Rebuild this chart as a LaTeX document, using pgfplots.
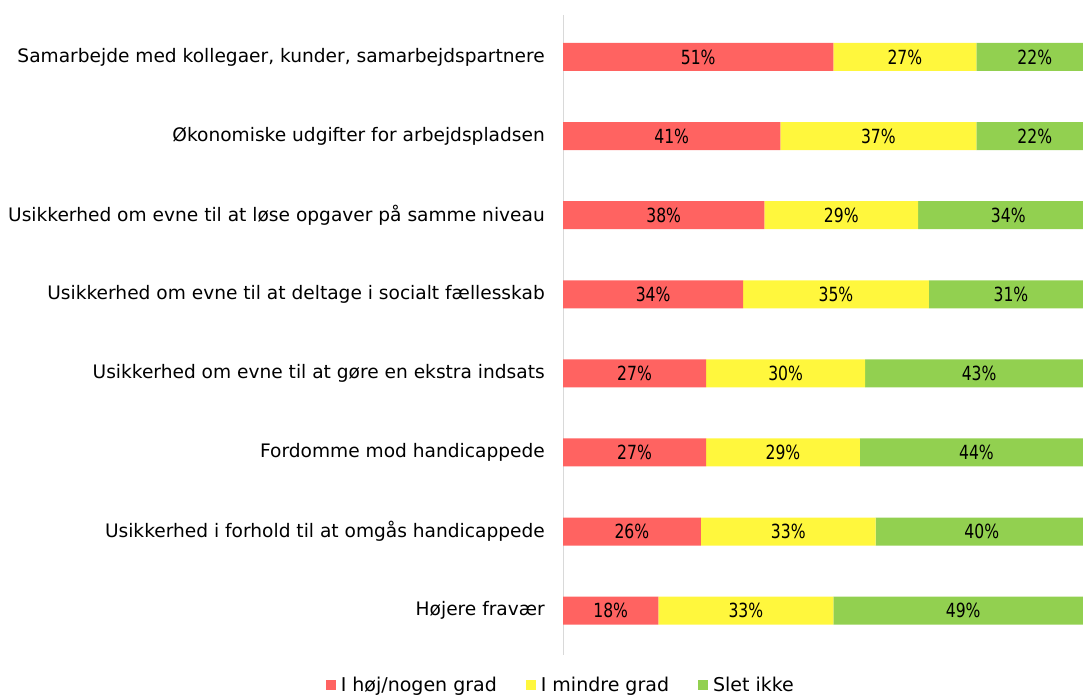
\documentclass[border=0pt]{standalone}
\usepackage{pgfplots}
\pgfplotsset{compat=1.18}
\usepackage{pgfplotstable}
\usepackage{fontspec}
\setmainfont{DejaVu Sans}
\newfontfamily\pctfont{DejaVu Sans}[FakeStretch=0.8]
\definecolor{cred}{HTML}{FF6361}
\definecolor{cyel}{HTML}{FFF73D}
\definecolor{cgrn}{HTML}{92D050}
\definecolor{axgray}{HTML}{D9D9D9}
\pgfplotstableread{
cat red yellow green
0 51 27 22
1 41 37 22
2 38 29 34
3 34 35 31
4 27 30 43
5 27 29 44
6 26 33 40
7 18 33 49
}\datatab
\begin{document}
\begin{tikzpicture}
\useasboundingbox (0,0) rectangle (1083pt,695pt);
\begin{axis}[
  at={(563pt,40pt)}, anchor=south west,
  scale only axis, width=540.67pt, height=640pt,
  xbar stacked, bar width=28pt,
  xmin=0, xmax=102,
  ymin=-0.53, ymax=7.56, y dir=reverse,
  axis x line=none, axis y line*=left,
  y axis line style={draw=axgray, line width=0.8pt},
  xtick=\empty,
  ytick={0,...,7},
  yticklabels={{Samarbejde med kollegaer, kunder, samarbejdspartnere},
    {Økonomiske udgifter for arbejdspladsen\hspace{8pt}},
    {Usikkerhed om evne til at løse opgaver på samme niveau},
    {Usikkerhed om evne til at deltage i socialt fællesskab},
    {Usikkerhed om evne til at gøre en ekstra indsats},
    {Fordomme mod handicappede},
    {Usikkerhed i forhold til at omgås handicappede},
    {Højere fravær}},
  major tick length=0pt,
  yticklabel style={font=\fontsize{18.6pt}{22pt}\selectfont, anchor=east, inner sep=0pt, xshift=-18pt},
  point meta=explicit symbolic,
  nodes near coords={\pgfplotspointmeta\%},
  every node near coord/.append style={anchor=center, text=black,
       font=\pctfont\fontsize{19.5pt}{23pt}\selectfont},
  legend columns=3,
  legend style={draw=none, at={(-0.0040,-0.047)}, anchor=center,
    font=\fontsize{19pt}{22pt}\selectfont,
    /tikz/every odd column/.append style={column sep=3pt},
    /tikz/every even column/.append style={column sep=27pt},
    inner sep=0pt},
  legend image code/.code={\fill[#1] (0pt,-5pt) rectangle (10pt,5pt);},
]
\addplot[fill=cred, draw=none] table[x=red, y=cat, meta=red] {\datatab};
\addplot[fill=cyel, draw=none] table[x=yellow, y=cat, meta=yellow] {\datatab};
\addplot[fill=cgrn, draw=none] table[x=green, y=cat, meta=green] {\datatab};
\legend{I høj/nogen grad, I mindre grad, Slet ikke}
\end{axis}
\end{tikzpicture}
\end{document}
